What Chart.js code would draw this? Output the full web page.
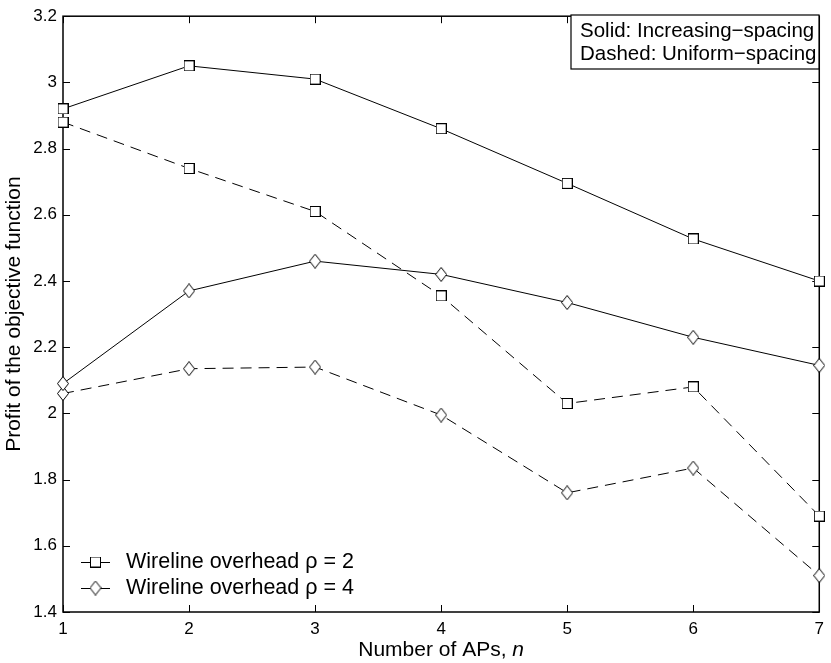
<!DOCTYPE html>
<html>
<head>
<meta charset="utf-8">
<script src="https://cdn.jsdelivr.net/npm/chart.js@4.4.1/dist/chart.umd.min.js"></script>
<style>
    html, body { margin: 0; padding: 0; background: #fff; }
    #wrap { width: 831px; height: 663px; }
</style>
</head>
<body>
<div id="wrap"><canvas id="chart" width="831" height="663"></canvas></div>
<script>
// Data
const apCounts = [1, 2, 3, 4, 5, 6, 7];
const incRho2 = [2.92, 3.05, 3.01, 2.86, 2.695, 2.527, 2.40];   // solid, squares
const uniRho2 = [2.88, 2.74, 2.61, 2.355, 2.03, 2.08, 1.69];    // dashed, squares
const incRho4 = [2.09, 2.37, 2.46, 2.42, 2.335, 2.23, 2.145];   // solid, diamonds
const uniRho4 = [2.06, 2.135, 2.14, 1.995, 1.76, 1.835, 1.51];  // dashed, diamonds
const yTickValues = [1.4, 1.6, 1.8, 2, 2.2, 2.4, 2.6, 2.8, 3, 3.2];
const legendLabels = ['Wireline overhead \u03c1 = 2', 'Wireline overhead \u03c1 = 4'];
const noteLines = ['Solid: Increasing\u2212spacing', 'Dashed: Uniform\u2212spacing'];

const FONT = '"Liberation Sans", Arial, Helvetica, sans-serif';

// MATLAB-like marker images
function makeSquare() {
    const c = document.createElement('canvas');
    c.width = 11; c.height = 11;
    const g = c.getContext('2d');
    g.fillStyle = '#fff';
    g.strokeStyle = '#000';
    g.lineWidth = 1;
    g.fillRect(0.5, 0.5, 10, 10);
    g.strokeRect(0.5, 0.5, 10, 10);
    return c;
}

function makeDiamond() {
    const c = document.createElement('canvas');
    c.width = 12; c.height = 15;
    const g = c.getContext('2d');
    g.fillStyle = '#fff';
    g.strokeStyle = '#000';
    g.lineWidth = 1;
    g.beginPath();
    g.moveTo(6, 0.5);
    g.lineTo(11.5, 7.5);
    g.lineTo(6, 14.5);
    g.lineTo(0.5, 7.5);
    g.closePath();
    g.fill();
    g.stroke();
    return c;
}

const squareMark = makeSquare();
const diamondMark = makeDiamond();

function toPoints(values) {
    return apCounts.map((n, i) => ({ x: n, y: values[i] }));
}

function series(label, values, mark, dashed) {
    return {
        label: label,
        data: toPoints(values),
        borderColor: '#000',
        backgroundColor: '#fff',
        borderWidth: 1,
        borderDash: dashed ? [11, 7] : [],
        pointStyle: mark,
        pointRadius: 6,
        tension: 0,
        fill: false,
        clip: false
    };
}

// Box, inward ticks, legends and x title
const decorations = {
    id: 'decorations',
    beforeDatasetsDraw(chart) {
        const { ctx, chartArea: a, scales } = chart;
        ctx.save();
        ctx.strokeStyle = '#000';
        ctx.lineWidth = 1;
        ctx.beginPath();
        apCounts.forEach(v => {
            const px = Math.round(scales.x.getPixelForValue(v)) + 0.5;
            ctx.moveTo(px, a.bottom); ctx.lineTo(px, a.bottom - 7);
            ctx.moveTo(px, a.top); ctx.lineTo(px, a.top + 7);
        });
        yTickValues.forEach(v => {
            const py = Math.round(scales.y.getPixelForValue(v)) + 0.5;
            ctx.moveTo(a.left, py); ctx.lineTo(a.left + 7, py);
            ctx.moveTo(a.right, py); ctx.lineTo(a.right - 7, py);
        });
        ctx.stroke();
        ctx.lineWidth = 1.5;
        ctx.strokeRect(a.left, a.top, a.right - a.left, a.bottom - a.top);
        ctx.restore();
    },
    afterDraw(chart) {
        const { ctx, chartArea: a } = chart;
        ctx.save();
        ctx.fillStyle = '#000';
        ctx.strokeStyle = '#000';
        ctx.textBaseline = 'middle';

        // note box, top right
        ctx.fillStyle = '#fff';
        ctx.fillRect(571, 15, 248, 54);
        ctx.lineWidth = 1.2;
        ctx.strokeRect(571, 15, 248, 54);
        ctx.fillStyle = '#000';
        ctx.textAlign = 'left';
        ctx.font = '20.5px ' + FONT;
        ctx.fillText(noteLines[0], 580, 31);
        ctx.fillText(noteLines[1], 580, 54);

        // series legend, bottom left
        const marks = [squareMark, diamondMark];
        const rows = [562, 588];
        ctx.lineWidth = 1;
        ctx.font = '21.5px ' + FONT;
        rows.forEach((y, i) => {
            ctx.beginPath();
            ctx.moveTo(81, y + 0.5);
            ctx.lineTo(110, y + 0.5);
            ctx.stroke();
            const m = marks[i];
            ctx.drawImage(m, 95.5 - m.width / 2, y - m.height / 2);
            ctx.fillText(legendLabels[i], 126, y);
        });

        // x axis title with italic n
        const main = 'Number of APs, ';
        ctx.font = '21px ' + FONT;
        const w1 = ctx.measureText(main).width;
        ctx.font = 'italic 21px ' + FONT;
        const w2 = ctx.measureText('n').width;
        const cx = (a.left + a.right) / 2;
        const x0 = cx - (w1 + w2) / 2;
        ctx.font = '21px ' + FONT;
        ctx.fillText(main, x0, 650);
        ctx.font = 'italic 21px ' + FONT;
        ctx.fillText('n', x0 + w1, 650);
        ctx.restore();
    }
};

const ctx = document.getElementById('chart').getContext('2d');
new Chart(ctx, {
    type: 'line',
    data: {
        datasets: [
            series('Increasing spacing, \u03c1 = 2', incRho2, squareMark, false),
            series('Uniform spacing, \u03c1 = 2', uniRho2, squareMark, true),
            series('Increasing spacing, \u03c1 = 4', incRho4, diamondMark, false),
            series('Uniform spacing, \u03c1 = 4', uniRho4, diamondMark, true)
        ]
    },
    options: {
        responsive: false,
        devicePixelRatio: 1,
        animation: false,
        layout: { padding: { top: 9, right: 2, left: 0, bottom: 0 } },
        plugins: {
            legend: { display: false },
            tooltip: { enabled: false }
        },
        scales: {
            x: {
                type: 'linear',
                min: 1,
                max: 7,
                grid: { display: false, drawTicks: false },
                border: { display: false },
                afterFit: s => { s.height = 51; },
                afterBuildTicks: s => { s.ticks = apCounts.map(v => ({ value: v })); },
                ticks: {
                    color: '#000',
                    font: { family: FONT, size: 17 },
                    padding: 7,
                    maxRotation: 0,
                    callback: v => String(v)
                }
            },
            y: {
                min: 1.4,
                max: 3.2,
                grid: { display: false, drawTicks: false },
                border: { display: false },
                afterFit: s => { s.width = 63; },
                afterBuildTicks: s => { s.ticks = yTickValues.map(v => ({ value: v })); },
                ticks: {
                    color: '#000',
                    font: { family: FONT, size: 17 },
                    padding: 6,
                    callback: v => String(Math.round(v * 10) / 10)
                },
                title: {
                    display: true,
                    text: 'Profit of the objective function',
                    color: '#000',
                    font: { family: FONT, size: 21 },
                    padding: { top: 2, bottom: 0 }
                }
            }
        }
    },
    plugins: [decorations]
});
</script>
</body>
</html>
